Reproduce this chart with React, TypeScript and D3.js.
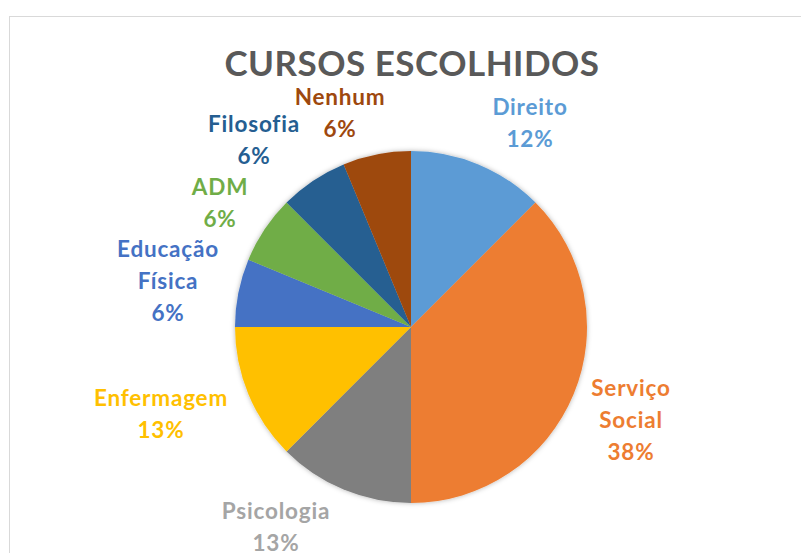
import React from "react";
import * as d3 from "d3";

const categories = ["Direito", "Serviço Social", "Psicologia", "Enfermagem", "Educação Física", "ADM", "Filosofia", "Nenhum"];
const values = [2, 6, 2, 2, 1, 1, 1, 1];
const percentLabels = ["12%", "38%", "13%", "13%", "6%", "6%", "6%", "6%"];
const labelLines = [["Direito"], ["Serviço", "Social"], ["Psicologia"], ["Enfermagem"], ["Educação", "Física"], ["ADM"], ["Filosofia"], ["Nenhum"]];
const sliceColors = ["#5B9BD5", "#ED7D31", "#7F7F7F", "#FFC000", "#4472C4", "#70AD47", "#255E91", "#9E480E"];
const labelColors = ["#5B9BD5", "#ED7D31", "#A5A5A5", "#FFC000", "#4472C4", "#70AD47", "#255E91", "#9E480E"];
// label anchor centers (x, first baseline y)
const labelPos: [number, number][] = [
  [530, 115], [631, 396], [276, 519], [161, 406], [168, 257], [220, 195], [254, 132], [340, 105],
];

const W = 801, H = 553;
const cx = 411, cy = 327, R = 176;
const lineH = 32;

export default function App() {
  const pie = d3.pie<number>().sort(null).value((d) => d)(values);
  const arc = d3.arc<d3.PieArcDatum<number>>().innerRadius(0).outerRadius(R);
  const font = "Lato, 'Open Sans', sans-serif";
  return (
    <svg width={W} height={H} style={{ position: "absolute", left: 0, top: 0, background: "#fff" }}>
      <defs>
        <filter id="sh" x="-10%" y="-10%" width="120%" height="120%">
          <feDropShadow dx="0" dy="0" stdDeviation="2.5" floodColor="#000" floodOpacity="0.3" />
        </filter>
      </defs>
      <rect x={0} y={0} width={W} height={H} fill="#fff" />
      <rect x={9.5} y={16.5} width={W + 20} height={H + 20} fill="#fff" stroke="#D9D9D9" strokeWidth={1} />
      <text x={412} y={76} textAnchor="middle" fontFamily={font} fontWeight={700} fontSize={35} letterSpacing={0.5} fill="#595959">
        CURSOS ESCOLHIDOS
      </text>
      <g transform={`translate(${cx},${cy})`} filter="url(#sh)">
        {pie.map((p, i) => (
          <path key={i} d={arc(p) || ""} fill={sliceColors[i]} />
        ))}
      </g>
      {categories.map((c, i) => {
        const [x, y] = labelPos[i];
        const lines = [...labelLines[i], percentLabels[i]];
        return (
          <text key={c} textAnchor="middle" fontFamily={font} fontWeight={700} fontSize={22.5} letterSpacing={0.8} fill={labelColors[i]}>
            {lines.map((l, j) => (
              <tspan key={j} x={x} y={y + j * lineH}>{l}</tspan>
            ))}
          </text>
        );
      })}
    </svg>
  );
}
